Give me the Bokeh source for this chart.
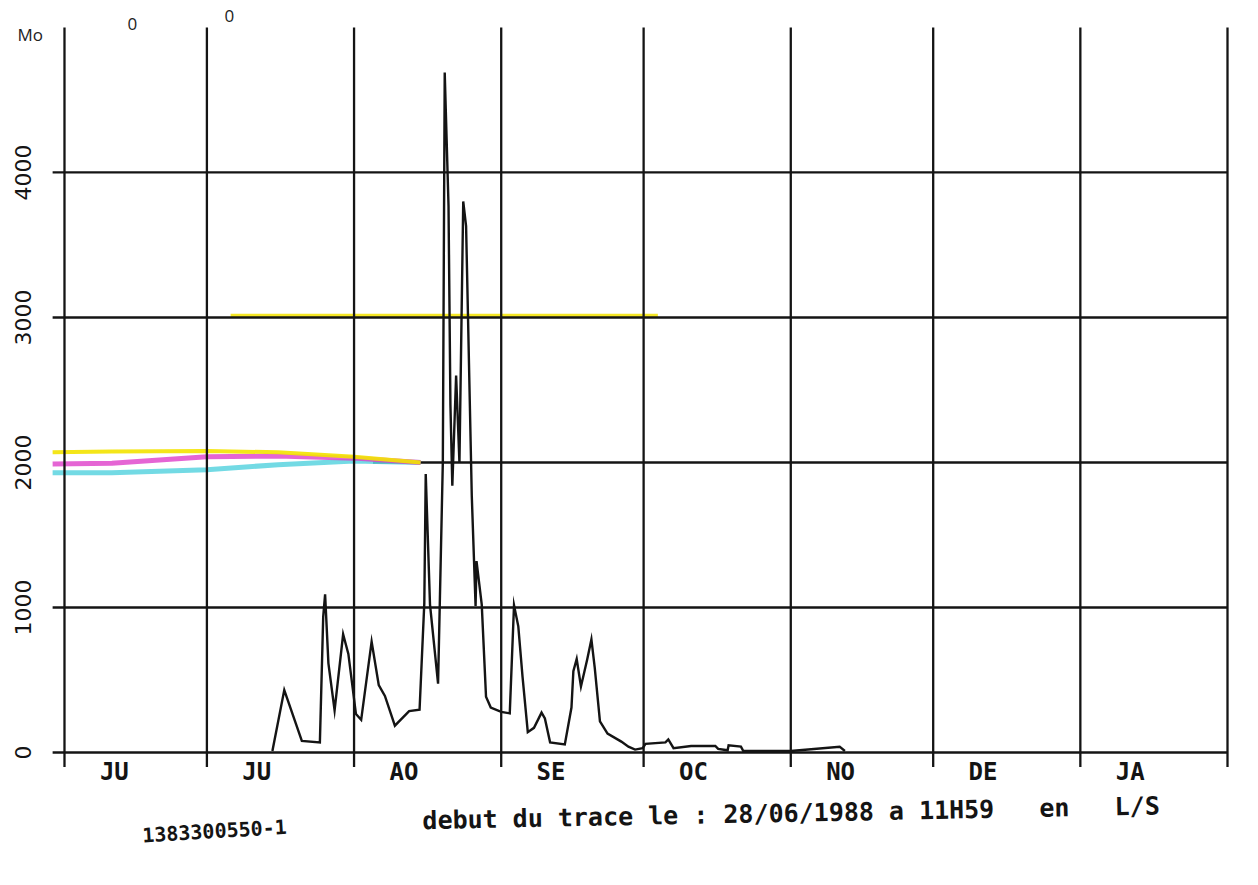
import numpy as np
from bokeh.plotting import figure
from bokeh.models import Range1d, LinearAxis, FixedTicker
from bokeh.core.properties import value
from bokeh.embed import file_html
from bokeh.resources import INLINE

# ---------------- data ----------------
# month boundaries (days counted from 1 June 1988)
month_starts = [0, 30, 61, 92, 122, 153, 183, 214, 245]
month_labels = ["JU", "JU", "AO", "SE", "OC", "NO", "DE", "JA"]
y_ticks = [0, 1000, 2000, 3000, 4000]

# discharge trace (L/S)
flow_days = [43.8, 46.3, 50.0, 53.8, 54.5, 54.9, 55.6, 56.9, 58.7, 59.8,
             61.4, 62.5, 64.7, 66.2, 67.5, 69.6, 72.6, 74.8, 75.8, 76.1,
             77.0, 78.7, 79.7, 80.1, 80.5, 80.9, 81.3, 81.7, 82.5, 83.2,
             84.0, 84.6, 85.8, 86.6, 86.8, 87.9, 88.8, 89.8, 92.0, 93.8,
             94.7, 95.6, 96.5, 97.6, 98.9, 100.5, 101.2, 102.3, 105.4, 106.8,
             107.2, 107.9, 108.8, 110.1, 111.0, 111.7, 112.8, 114.4, 117.3, 118.8,
             120.2, 121.8, 122.4, 126.6, 127.2, 128.3, 132.0, 137.1, 137.7, 139.7,
             139.9, 142.5, 143.0, 153.0, 163.3, 164.4]
flow_values = [10, 430, 80, 70, 935, 1090, 615, 290, 815, 680,
               265, 225, 765, 465, 390, 185, 285, 295, 1030, 1920,
               1020, 475, 2000, 4690, 4230, 3770, 2400, 1840, 2600, 2000,
               3800, 3630, 1770, 1010, 1320, 1020, 385, 310, 280, 270,
               1015, 870, 520, 140, 170, 275, 235, 70, 55, 310,
               560, 645, 455, 640, 780, 585, 215, 130, 75, 40,
               20, 30, 60, 70, 90, 30, 45, 45, 25, 15,
               50, 40, 10, 10, 40, 10]

# colour-ribbon traces near 2000 (yellow / magenta / cyan)
ribbon_days = [-2.5, 10, 30, 45, 61, 75]
yellow_vals = [2070, 2075, 2080, 2070, 2040, 2000]
magenta_vals = [1990, 1995, 2040, 2045, 2030, 2000]
cyan_vals = [1930, 1930, 1950, 1985, 2010, 2000]

header_texts = ["Mo", "0", "0"]
header_days = [-9.9, 13.3, 33.7]
header_vals = [4952, 5021, 5076]

caption = "debut du trace le : 28/06/1988 a 11H59\u00a0\u00a0\u00a0en\u00a0\u00a0\u00a0L/S"
station = "1383300550-1"

# ---------------- figure ----------------
W, H = 1242, 869
p = figure(width=W, height=H, output_backend="svg", toolbar_location=None,
           x_axis_type=None, y_axis_type=None,
           x_range=Range1d(-13.48, 248.16), y_range=Range1d(-807, 5186),
           min_border=0, outline_line_color=None)
p.background_fill_color = "white"
p.border_fill_color = "white"

ink = "#141414"
x_left = -2.5
x_right = month_starts[-1]

# yellow fringe of the 3000 line
p.line([35, 125], [3014, 3014], line_color="#f3e300", line_width=3.5, line_alpha=0.85)

# horizontal grid lines
x0s = [x_left if v != 2000 else 65 for v in y_ticks]
p.segment(x0=x0s, y0=y_ticks, x1=[x_right] * len(y_ticks), y1=y_ticks,
          line_color=ink, line_width=2.3)

# colour ribbons around 2000
p.line(ribbon_days, cyan_vals, line_color="#5ad3df", line_width=5, line_alpha=0.85)
p.line(ribbon_days, magenta_vals, line_color="#df3fc9", line_width=5, line_alpha=0.8)
p.line(ribbon_days, yellow_vals, line_color="#f3e300", line_width=4, line_alpha=0.9)

# vertical month lines
p.segment(x0=month_starts, y0=[-100] * len(month_starts),
          x1=month_starts, y1=[5000] * len(month_starts),
          line_color=ink, line_width=2.3)

# discharge trace
p.line(flow_days, flow_values, line_color=ink, line_width=2.4, line_join="miter")

# axes (drawn inside the frame)
label_pos = [m + 10.5 for m in month_starts[:-1]]
xaxis = LinearAxis(fixed_location=0, ticker=FixedTicker(ticks=label_pos),
                   major_label_overrides={pos: lab for pos, lab in zip(label_pos, month_labels)},
                   axis_line_color=None, major_tick_line_color=None,
                   minor_tick_line_color=None, major_tick_out=0, major_tick_in=0,
                   major_label_standoff=6,
                   major_label_text_font="DejaVu Sans Mono",
                   major_label_text_font_size="24px",
                   major_label_text_font_style="bold",
                   major_label_text_color=ink)
p.add_layout(xaxis, "below")

yaxis = LinearAxis(fixed_location=x_left, ticker=FixedTicker(ticks=y_ticks),
                   axis_line_color=None, major_tick_line_color=None,
                   minor_tick_line_color=None, major_tick_out=0, major_tick_in=0,
                   major_label_standoff=22,
                   major_label_orientation="vertical",
                   major_label_text_font="DejaVu Sans",
                   major_label_text_font_size="22px",
                   major_label_text_color=ink)
p.add_layout(yaxis, "left")

# captions
p.text(x=[75.4], y=[-470], text=[caption], angle=0.02,
       text_font=value("DejaVu Sans Mono"), text_font_size="25px",
       text_font_style="bold", text_color=ink, text_baseline="alphabetic")
p.text(x=[16.4], y=[-572], text=[station], angle=0.06,
       text_font=value("DejaVu Sans Mono"), text_font_size="20px",
       text_font_style="bold", text_color=ink, text_baseline="alphabetic")

# header fragments
p.text(x=header_days, y=header_vals, text=header_texts,
       text_font=value("Open Sans"), text_font_size="17px",
       text_color="#222222", text_baseline="alphabetic")

open("out.html", "w").write(file_html(p, INLINE))
